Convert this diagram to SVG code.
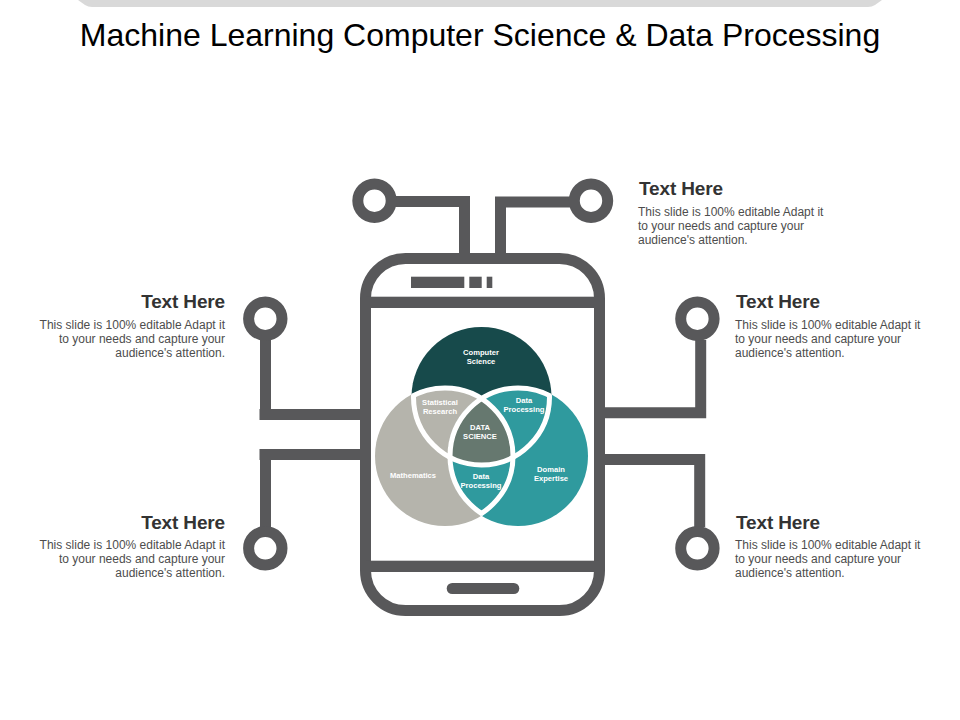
<svg xmlns="http://www.w3.org/2000/svg" width="960" height="720" viewBox="0 0 960 720">
<style>
.ln{fill:none;stroke:#58585A;stroke-width:11}
.ring{fill:#fff;stroke:#58585A;stroke-width:11}
.bar{fill:#58585A}
.sep{fill:none;stroke:#fff;stroke-width:5}
text{font-family:"Liberation Sans",Arial,sans-serif}
.title{font-size:32px;fill:#000}
.h{font-size:19px;font-weight:700;fill:#333;letter-spacing:-.15px}
.b{font-size:12px;fill:#4d4d4d}
.v{font-size:7.600px;font-weight:700;fill:#fff;text-anchor:middle}
.e{text-anchor:end}
</style>
<defs>
<clipPath id="cL"><circle cx="445" cy="456" r="70"/></clipPath>
<clipPath id="cR"><circle cx="518" cy="456" r="70"/></clipPath>
<clipPath id="cLR"><circle cx="445" cy="456" r="70"/><circle cx="518" cy="456" r="70"/></clipPath>
<clipPath id="cTR"><circle cx="481.5" cy="397" r="70"/><circle cx="518" cy="456" r="70"/></clipPath>
<clipPath id="cTL"><circle cx="481.5" cy="397" r="70"/><circle cx="445" cy="456" r="70"/></clipPath>
</defs>
<rect width="960" height="720" fill="#fff"/>
<path d="M78 0H882L875 5Q872 7 868 7H92Q88 7 85 5Z" fill="#D9D9D9"/>
<text class="title" x="480" y="46" text-anchor="middle">Machine Learning Computer Science &amp; Data Processing</text>
<g id="connectors">
<path class="ln" d="M392 201.500H464.500V254"/>
<path class="ln" d="M574 202H500.500V254"/>
<path class="ln" d="M265.500 340V414.500H361M259.500 414.500H266"/>
<path class="ln" d="M265.500 527V454.500H361M259.500 454.500H266"/>
<path class="ln" d="M700.700 340V412.800H604"/>
<path class="ln" d="M699.700 527V459.500H604"/>
</g>
<g id="phone">
<rect class="ln" x="365.500" y="258.500" width="234" height="352" rx="40"/>
<rect class="bar" x="366" y="296.700" width="233" height="11.300"/>
<rect class="bar" x="366" y="560.700" width="233" height="11.300"/>
<rect class="bar" x="446.700" y="583" width="72.600" height="11" rx="5.500"/>
<rect class="bar" x="411" y="276.700" width="53.300" height="11.300"/>
<rect class="bar" x="469.300" y="276.700" width="12.400" height="11.300"/>
<rect class="bar" x="486.700" y="276.700" width="5.600" height="11.300"/>
</g>
<g id="node-top-left"><circle class="ring" cx="374.500" cy="200.700" r="16.700"/></g>
<g id="node-top-right"><circle class="ring" cx="591" cy="200.700" r="16.700"/>
<text class="h" x="639" y="195">Text Here</text>
<text class="b" x="638" y="216">This slide is 100% editable Adapt it</text>
<text class="b" x="638" y="230">to your needs and capture your</text>
<text class="b" x="638" y="244">audience's attention.</text></g>
<g id="node-left-upper"><circle class="ring" cx="265.300" cy="318.700" r="16.700"/>
<text class="h e" x="225" y="308">Text Here</text>
<text class="b e" x="225" y="329">This slide is 100% editable Adapt it</text>
<text class="b e" x="225" y="343">to your needs and capture your</text>
<text class="b e" x="225" y="357">audience's attention.</text></g>
<g id="node-left-lower"><circle class="ring" cx="265.300" cy="548.300" r="16.700"/>
<text class="h e" x="225" y="529">Text Here</text>
<text class="b e" x="225" y="549">This slide is 100% editable Adapt it</text>
<text class="b e" x="225" y="563">to your needs and capture your</text>
<text class="b e" x="225" y="577">audience's attention.</text></g>
<g id="node-right-upper"><circle class="ring" cx="697.400" cy="318.700" r="16.700"/>
<text class="h" x="736" y="308">Text Here</text>
<text class="b" x="735" y="329">This slide is 100% editable Adapt it</text>
<text class="b" x="735" y="343">to your needs and capture your</text>
<text class="b" x="735" y="357">audience's attention.</text></g>
<g id="node-right-lower"><circle class="ring" cx="697.400" cy="548.300" r="16.700"/>
<text class="h" x="736" y="529">Text Here</text>
<text class="b" x="735" y="549">This slide is 100% editable Adapt it</text>
<text class="b" x="735" y="563">to your needs and capture your</text>
<text class="b" x="735" y="577">audience's attention.</text></g>
<g id="venn">
<circle cx="481.500" cy="397" r="70" fill="#174A4B"/>
<circle cx="445" cy="456" r="70" fill="#B5B4AC"/>
<circle cx="518" cy="456" r="70" fill="#2F9A9E"/>
<g clip-path="url(#cL)"><g clip-path="url(#cR)"><circle cx="481.500" cy="397" r="70" fill="#66786F"/></g></g>
<g clip-path="url(#cLR)"><circle class="sep" cx="481.500" cy="397" r="68"/></g>
<g clip-path="url(#cTR)"><circle class="sep" cx="445" cy="456" r="68"/></g>
<g clip-path="url(#cTL)"><circle class="sep" cx="518" cy="456" r="68"/></g>
<text class="v" x="481" y="354.500">Computer</text><text class="v" x="481" y="363.500">Science</text>
<text class="v" x="440" y="404.500">Statistical</text><text class="v" x="440" y="413.500">Research</text>
<text class="v" x="524" y="402.500">Data</text><text class="v" x="524" y="411.500">Processing</text>
<text class="v" x="480" y="429.500">DATA</text><text class="v" x="480" y="438.500">SCIENCE</text>
<text class="v" x="481" y="478.500">Data</text><text class="v" x="481" y="487.500">Processing</text>
<text class="v" x="413" y="477.500">Mathematics</text>
<text class="v" x="551" y="471.500">Domain</text><text class="v" x="551" y="480.500">Expertise</text>
</g>
</svg>
